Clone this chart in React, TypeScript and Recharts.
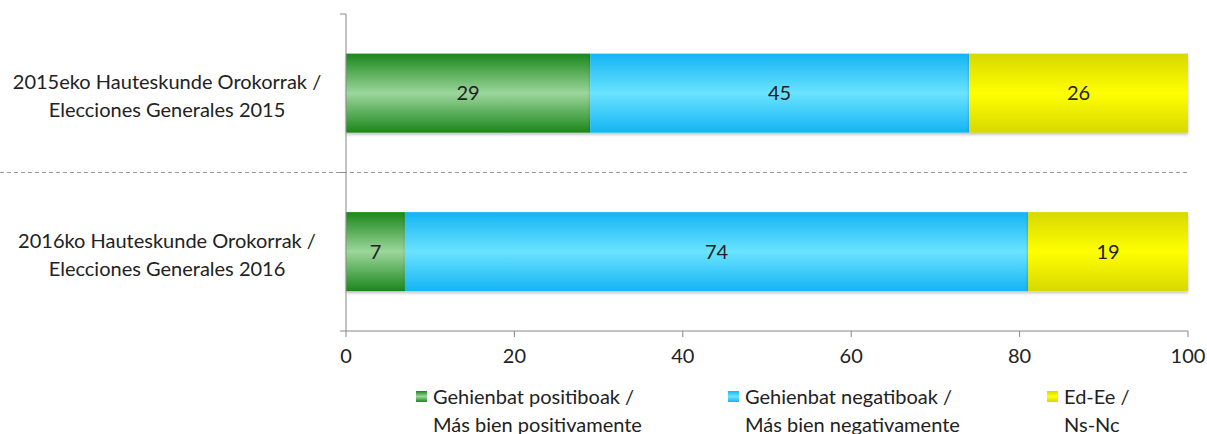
import React from "react";
import {
  BarChart,
  Bar,
  XAxis,
  YAxis,
  LabelList,
  ReferenceLine,
} from "recharts";

const elections = [
  ["2015eko Hauteskunde Orokorrak /", "Elecciones Generales 2015"],
  ["2016ko Hauteskunde Orokorrak /", "Elecciones Generales 2016"],
];
const positive = [29, 7];
const negative = [45, 74];
const dontKnow = [26, 19];
const xTicks = [0, 20, 40, 60, 80, 100];

const seriesInfo = [
  { key: "pos", lines: ["Gehienbat positiboak /", "Más bien positivamente"], grad: "gGreen" },
  { key: "neg", lines: ["Gehienbat negatiboak /", "Más bien negativamente"], grad: "gBlue" },
  { key: "nsnc", lines: ["Ed-Ee /", "Ns-Nc"], grad: "gYellow" },
];

const data = elections.map((lines, i) => ({
  name: lines.join(" "),
  lines,
  pos: positive[i],
  neg: negative[i],
  nsnc: dontKnow[i],
}));

const FONT = "Lato, 'Liberation Sans', sans-serif";
const FS = 20;

const CatTick = (props: any) => {
  const { x, y, payload } = props;
  const item = data.find((d) => d.name === payload.value);
  const lines = item ? item.lines : [payload.value];
  return (
    <text
      x={x - 179}
      y={y}
      textAnchor="middle"
      fontFamily={FONT}
      fontSize={FS}
      fill="#222"
    >
      <tspan x={x - 179} y={y - 12} dominantBaseline="central">
        {lines[0]}
      </tspan>
      <tspan x={x - 179} y={y + 16} dominantBaseline="central">
        {lines[1]}
      </tspan>
    </text>
  );
};

const BarShape = (props: any) => {
  const { x, y, width, height, fill } = props;
  if (!width || width <= 0) return null;
  return (
    <rect
      x={x}
      y={y}
      width={width}
      height={height}
      fill={fill}
      filter="url(#barShadow)"
    />
  );
};

const ChartLegend = () => (
  <div
    style={{
      position: "absolute",
      left: 0,
      top: 382,
      width: 1207,
      display: "flex",
      paddingLeft: 415,
      boxSizing: "border-box",
      fontFamily: FONT,
      fontSize: FS,
      color: "#222",
      lineHeight: "28px",
    }}
  >
    {seriesInfo.map((s, i) => (
      <div
        key={s.key}
        style={{ display: "flex", width: i === 0 ? 312 : i === 1 ? 319 : 150 }}
      >
        <svg width={18} height={28} style={{ flex: "none" }}>
          <rect x={1} y={9} width={11} height={11} fill={`url(#${s.grad})`} />
        </svg>
        <div>
          <div>{s.lines[0]}</div>
          <div>{s.lines[1]}</div>
        </div>
      </div>
    ))}
  </div>
);

export default function App() {
  const boundaries = [
    { y: data[0].name, position: "start" },
    { y: data[1].name, position: "start" },
    { y: data[1].name, position: "end" },
  ];
  return (
    <div style={{ position: "absolute", left: 0, top: 0, width: 1207, height: 434 }}>
      <BarChart
        width={1207}
        height={434}
        data={data}
        layout="vertical"
        margin={{ top: 14, right: 19, bottom: 0, left: 0 }}
        barCategoryGap="25%"
      >
        <defs>
          <linearGradient id="gGreen" x1="0" y1="0" x2="0" y2="1">
            <stop offset="0%" stopColor="#1a871a" />
            <stop offset="50%" stopColor="#9cd69c" />
            <stop offset="100%" stopColor="#1a871a" />
          </linearGradient>
          <linearGradient id="gBlue" x1="0" y1="0" x2="0" y2="1">
            <stop offset="0%" stopColor="#14b4f4" />
            <stop offset="50%" stopColor="#6ae3ff" />
            <stop offset="100%" stopColor="#14b4f4" />
          </linearGradient>
          <linearGradient id="gYellow" x1="0" y1="0" x2="0" y2="1">
            <stop offset="0%" stopColor="#d8d800" />
            <stop offset="50%" stopColor="#ffff00" />
            <stop offset="100%" stopColor="#d8d800" />
          </linearGradient>
          <filter id="barShadow" x="-5%" y="-10%" width="110%" height="130%">
            <feDropShadow dx="0" dy="2" stdDeviation="1.5" floodColor="#000" floodOpacity="0.25" />
          </filter>
        </defs>
        <XAxis
          type="number"
          domain={[0, 100]}
          ticks={xTicks}
          interval={0}
          height={103}
          tickSize={6}
          tickMargin={12}
          stroke="#888"
          tick={{ fill: "#222", fontSize: FS, fontFamily: FONT }}
        />
        <YAxis
          type="category"
          dataKey="name"
          width={346}
          tickSize={0}
          tickMargin={0}
          tickLine={false}
          stroke="#888"
          tick={<CatTick />}
        />
        {boundaries.map((b, i) => (
          <ReferenceLine
            key={`t${i}`}
            position={b.position as any}
            segment={[
              { x: -0.7, y: b.y },
              { x: 0, y: b.y },
            ]}
            stroke="#888"
            ifOverflow="visible"
          />
        ))}
        <ReferenceLine
          position="start"
          segment={[
            { x: -41.1, y: data[1].name },
            { x: 100, y: data[1].name },
          ]}
          stroke="#999"
          strokeDasharray="4 3"
          ifOverflow="visible"
        />
        {seriesInfo.map((s) => (
          <Bar
            key={s.key}
            dataKey={s.key}
            stackId="a"
            fill={`url(#${s.grad})`}
            shape={<BarShape />}
            isAnimationActive={false}
          >
            <LabelList
              dataKey={s.key}
              position="center"
              fill="#222"
              fontSize={FS}
              fontFamily={FONT}
            />
          </Bar>
        ))}
      </BarChart>
      <ChartLegend />
    </div>
  );
}
